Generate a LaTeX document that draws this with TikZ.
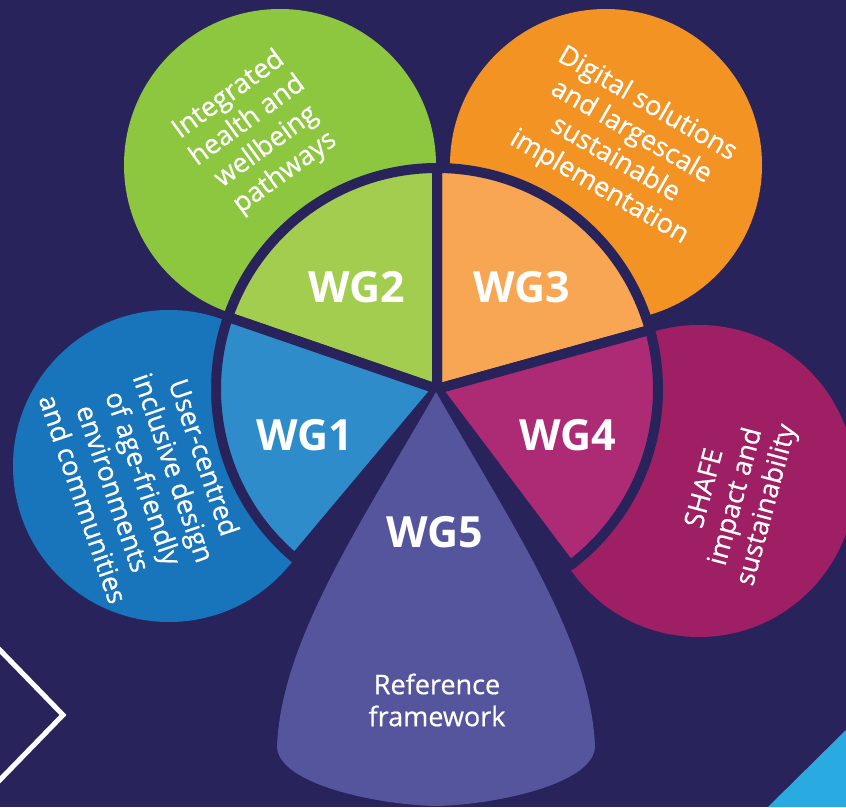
\documentclass[tikz,border=0pt]{standalone}
\usepackage{fontspec}
\setmainfont{Open Sans}
\newfontfamily\petalfont{Open Sans}[FakeBold=0.6]
\usetikzlibrary{calc}

\definecolor{navy}{HTML}{29235C}
\definecolor{leafout}{HTML}{8DC63F}
\definecolor{leafin}{HTML}{A3CD4F}
\definecolor{sunout}{HTML}{F39323}
\definecolor{sunin}{HTML}{F8A654}
\definecolor{skyout}{HTML}{1875BB}
\definecolor{skyin}{HTML}{2F8CCB}
\definecolor{plumout}{HTML}{9E1F63}
\definecolor{plumin}{HTML}{AD2A75}
\definecolor{wgfive}{HTML}{55559E}
\definecolor{cornerblue}{HTML}{29ABE2}

\begin{document}
\begin{tikzpicture}[x=1pt,y=1pt,
  sector/.style={fill=#1, draw=navy, line width=10pt, line join=round},
  wglabel/.style={text=white, font=\bfseries\fontsize{43}{43}\selectfont},
  petaltext/.style={text=white, align=center, font=\petalfont\fontsize{27}{32}\selectfont}]

  \fill[navy] (0,0) rectangle (846,807);
  \useasboundingbox (0,0) rectangle (846,807);
  \clip (0,0) rectangle (846,807);

  % corner marks
  \draw[white, line width=5pt, line join=miter] (-6,163) -- (63,92) -- (-6,21);
  \fill[cornerblue] (768,0) -- (846,77) -- (846,0) -- cycle;

  % outer petals
  \fill[leafout] (280,642) circle[radius=156];
  \fill[sunout] (606,642) circle[radius=156];
  \fill[skyout] (169,341) circle[radius=156];
  \fill[plumout] (699,326) circle[radius=156];

  % inner ring
  \coordinate (C) at (437,418);
  \foreach \a/\b/\col in {15.5/90/sunin, 90/161/leafin, 161/230/skyin, -53/15.5/plumin}
    \draw[sector=\col] (C) -- ++(\a:221) arc[start angle=\a, end angle=\b, radius=221] -- cycle;

  % WG5
  \fill[wgfive] (436,415) .. controls (362,285) and (281,167) .. (277,60)
    .. controls (279,22) and (380,2) .. (436,1)
    .. controls (492,2) and (593,22) .. (595,60)
    .. controls (591,167) and (510,285) .. cycle;

  \node[wglabel] (wg1) at (305,372) {WG1};
  \node[wglabel] (wg2) at (357,520) {WG2};
  \node[wglabel] (wg3) at (522,520) {WG3};
  \node[wglabel] (wg4) at (568,372) {WG4};
  \node[wglabel] (wg5) at (435,275) {WG5};

  \node[petaltext, rotate=36] (leaftext) at (257,673) {Integrated\\health and\\wellbeing\\pathways};
  \node[petaltext, rotate=-30] (suntext) at (623,661) {Digital solutions\\and largescale\\sustainable\\implementation};
  \node[petaltext, rotate=-71] (skytext) at (144,329) {User-centred\\inclusive design\\of age-friendly\\environments\\and communities};
  \node[petaltext, rotate=75] (plumtext) at (737,310) {SHAFE\\impact and\\sustainability};
  \node[petaltext] (reftext) at (437,107) {Reference\\framework};
\end{tikzpicture}
\end{document}
